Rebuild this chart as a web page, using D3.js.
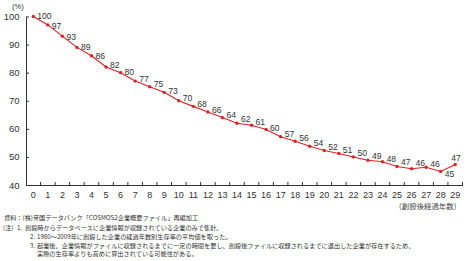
<!DOCTYPE html>
<html>
<head>
<meta charset="utf-8">
<script src="https://cdn.jsdelivr.net/npm/d3@7"></script>
<style>
  body { margin: 0; background: #fff; }
  svg text { font-family: Arial, "Liberation Sans", "Noto Sans CJK JP", sans-serif; }
  .axis path, .axis line { stroke: #333; }
  .axis text { fill: #333; }
  .note { font-family: "Noto Sans CJK JP", sans-serif !important; fill: #333; font-size: 6.2px; }
</style>
</head>
<body>
<div id="chart"></div>
<script>
// years since founding (x categories)
var years = d3.range(0, 30);
// survival rate (%)
var survival = [100, 97, 93, 89, 86, 82, 80, 77, 75, 73, 70, 68, 66, 64, 62, 61.3, 59.8, 57.2, 55.6, 53.8,
                52.3, 51.2, 50.0, 48.8, 48.3, 46.6, 45.8, 46.3, 44.8, 47.3];
var yTicks = [40, 50, 60, 70, 80, 90, 100];

var notes = [
    {lead: "資料：(株)帝国データバンク「COSMOS2企業概要ファイル」再編加工"},
    {lead: "(注)", num: "1.", text: "創設時からデータベースに企業情報が収録されている企業のみで集計。"},
    {num: "2.", text: "1980～2009年に創設した企業の経過年数別生存率の平均値を取った。"},
    {num: "3.", text: "起業後、企業情報がファイルに収録されるまでに一定の時間を要し、創設後ファイルに収録されるまでに退出した企業が存在するため、"},
    {text: "実際の生存率よりも高めに算出されている可能性がある。"}
];

var W = 468, H = 261;
var red = "#e02128";

var svg = d3.select("#chart").append("svg")
    .attr("width", W)
    .attr("height", H);

var x = d3.scaleBand()
    .domain(years)
    .range([26, 462.5]);

var y = d3.scaleLinear()
    .domain([40, 100])
    .range([185, 16.5]);

// y axis
var yAxis = svg.append("g")
    .attr("class", "axis")
    .attr("transform", "translate(26,0)")
    .call(d3.axisLeft(y).tickValues(yTicks).tickSizeInner(-3).tickSizeOuter(0).tickPadding(6.5));
yAxis.selectAll("text").style("font-size", "9.5px");

svg.append("text")
    .attr("x", 12)
    .attr("y", 9)
    .style("font-size", "7.5px")
    .attr("fill", "#333")
    .text("(%)");

// x axis
var xAxis = svg.append("g")
    .attr("class", "axis")
    .attr("transform", "translate(0,185)")
    .call(d3.axisBottom(x).tickSize(0).tickPadding(7));
xAxis.selectAll("text").style("font-size", "9px");

// boundary ticks between categories
xAxis.selectAll(".bound")
    .data(years.slice(1).concat([30]))
    .enter().append("line")
    .attr("class", "bound")
    .attr("x1", function(d) { return x(0) + d * x.step(); })
    .attr("x2", function(d) { return x(0) + d * x.step(); })
    .attr("y1", 0)
    .attr("y2", -3);

svg.append("text")
    .attr("x", 461)
    .attr("y", 209)
    .attr("text-anchor", "end")
    .style("font-size", "7.4px")
    .style("font-family", "'Noto Sans CJK JP', sans-serif")
    .attr("fill", "#444")
    .text("（創設後経過年数）");

// line + points
var pts = years.map(function(d, i) {
    return {yr: d, v: survival[i], cx: x(d) + x.bandwidth() / 2, cy: y(survival[i])};
});

svg.append("path")
    .datum(pts)
    .attr("fill", "none")
    .attr("stroke", red)
    .attr("stroke-width", 1.1)
    .attr("d", d3.line().x(function(d) { return d.cx; }).y(function(d) { return d.cy; }));

svg.selectAll(".dot")
    .data(pts)
    .enter().append("circle")
    .attr("class", "dot")
    .attr("cx", function(d) { return d.cx; })
    .attr("cy", function(d) { return d.cy; })
    .attr("r", 1.7)
    .attr("fill", red);

// labels sit lower where the line falls steeply, higher where it flattens
svg.selectAll(".lbl")
    .data(pts)
    .enter().append("text")
    .attr("class", "lbl")
    .attr("x", function(d, i) { return i === 29 ? d.cx - 4 : d.cx + 4; })
    .attr("y", function(d, i) {
        if (i === 28) return d.cy + 5.5;
        if (i === 29) return d.cy - 3;
        var drop = pts[i + 1].cy - d.cy;
        return d.cy - 2.5 + 0.55 * Math.max(drop, 0);
    })
    .style("font-size", "8.6px")
    .attr("fill", "#333")
    .text(function(d) { return Math.round(d.v); });

// footnotes
var lineY = [220, 229.5, 238.5, 247.5, 256];
notes.forEach(function(n, i) {
    var g = svg.append("g");
    if (n.lead) g.append("text").attr("class", "note").attr("x", i === 0 ? 4 : 3).attr("y", lineY[i]).text(n.lead);
    if (n.num) g.append("text").attr("class", "note").attr("x", i === 1 ? 17 : 30).attr("y", lineY[i]).text(n.num);
    if (n.text) g.append("text").attr("class", "note").attr("x", i === 1 ? 25 : 37).attr("y", lineY[i]).text(n.text);
});
</script>
</body>
</html>
